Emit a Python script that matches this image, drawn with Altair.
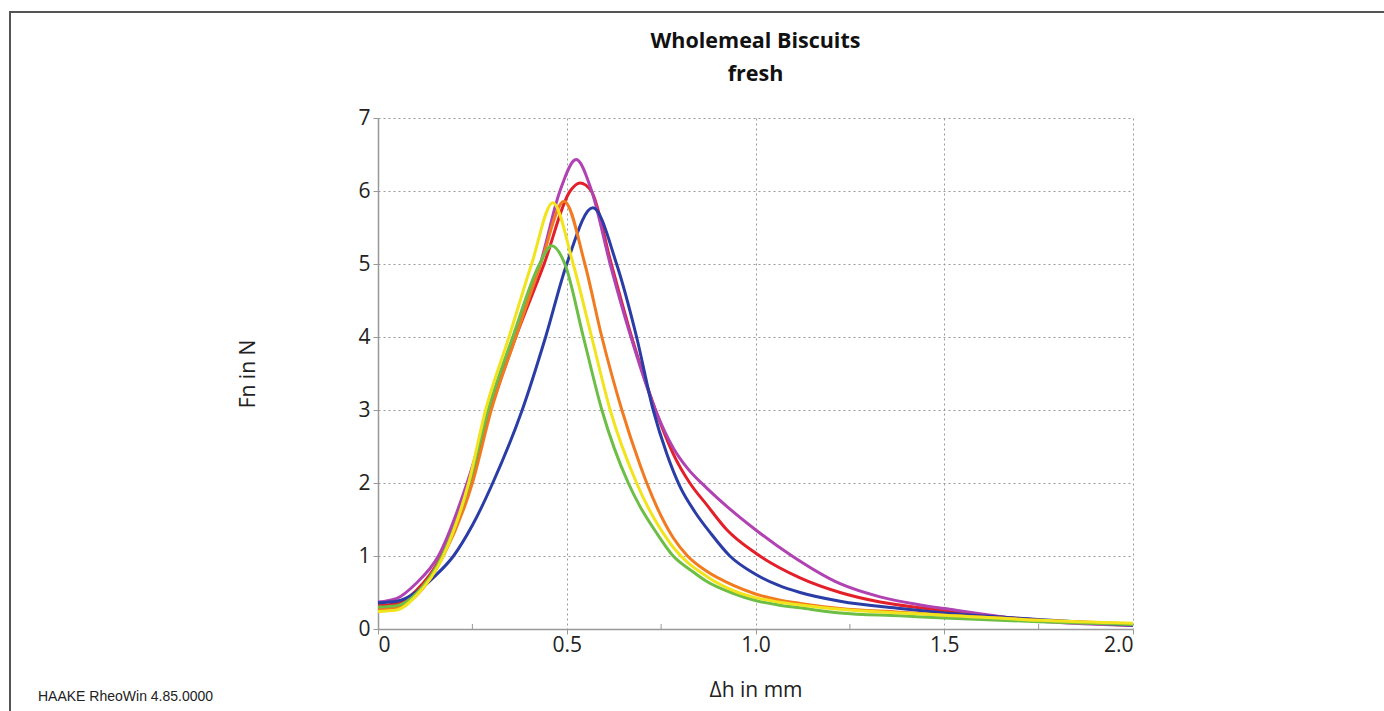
import altair as alt
import pandas as pd

# ---- data (x: Δh in mm, y: Fn in N) ----
names = ["red", "magenta", "blue", "orange", "green", "yellow"]
colors = ["#E3202A", "#B042B2", "#2A3CA6", "#F27A1F", "#6DBE45", "#F2E41C"]

magenta_x = [0, 0.05, 0.1, 0.16, 0.236, 0.295, 0.36, 0.43, 0.482, 0.525, 0.566, 0.615, 0.67, 0.735, 0.782, 0.82, 0.871, 0.924, 1.0, 1.091, 1.224, 1.33, 1.436, 1.5, 1.75, 2.0]
magenta_y = [0.37, 0.42, 0.62, 1.0, 2.0, 3.0, 4.0, 5.0, 6.0, 6.43, 6.0, 5.0, 4.0, 3.0, 2.48, 2.2, 1.93, 1.68, 1.36, 1.02, 0.62, 0.44, 0.33, 0.28, 0.11, 0.05]

red_x = [0, 0.05, 0.1, 0.168, 0.243, 0.298, 0.365, 0.44, 0.509, 0.535, 0.565, 0.618, 0.672, 0.735, 0.782, 0.826, 0.871, 0.924, 1.0, 1.118, 1.224, 1.33, 1.436, 1.5, 1.75, 2.0]
red_y = [0.32, 0.35, 0.52, 1.0, 2.0, 3.0, 4.0, 5.0, 6.0, 6.11, 6.0, 5.0, 4.0, 3.0, 2.4, 2.0, 1.7, 1.36, 1.04, 0.70, 0.50, 0.37, 0.29, 0.25, 0.12, 0.05]

blue_x = [0, 0.05, 0.1, 0.15, 0.2, 0.25, 0.304, 0.382, 0.444, 0.5, 0.569, 0.632, 0.685, 0.729, 0.765, 0.80, 0.84, 0.88, 0.932, 1.0, 1.06, 1.118, 1.224, 1.383, 1.5, 1.75, 2.0]
blue_y = [0.36, 0.38, 0.50, 0.72, 1.0, 1.42, 2.0, 3.0, 4.0, 5.0, 5.77, 5.0, 4.0, 3.0, 2.4, 1.95, 1.6, 1.32, 1.0, 0.75, 0.60, 0.50, 0.38, 0.28, 0.22, 0.13, 0.05]

orange_x = [0, 0.05, 0.1, 0.173, 0.25, 0.30, 0.365, 0.431, 0.493, 0.548, 0.593, 0.646, 0.694, 0.712, 0.782, 0.82, 0.871, 0.94, 1.0, 1.06, 1.118, 1.224, 1.383, 1.5, 1.75, 2.0]
orange_y = [0.27, 0.29, 0.45, 1.0, 2.0, 3.0, 4.0, 5.0, 5.86, 5.0, 4.0, 3.0, 2.25, 2.0, 1.25, 1.0, 0.79, 0.60, 0.48, 0.40, 0.35, 0.28, 0.23, 0.19, 0.12, 0.07]

yellow_x = [0, 0.05, 0.1, 0.173, 0.24, 0.285, 0.347, 0.407, 0.463, 0.517, 0.566, 0.615, 0.685, 0.782, 0.871, 0.94, 1.0, 1.06, 1.118, 1.224, 1.383, 1.5, 1.75, 2.0]
yellow_y = [0.24, 0.26, 0.45, 1.0, 2.0, 3.0, 4.0, 5.0, 5.84, 5.0, 4.0, 3.0, 2.0, 1.12, 0.72, 0.53, 0.43, 0.37, 0.33, 0.27, 0.22, 0.19, 0.12, 0.08]

green_x = [0, 0.05, 0.1, 0.17, 0.242, 0.292, 0.357, 0.428, 0.46, 0.495, 0.544, 0.593, 0.663, 0.694, 0.74, 0.782, 0.83, 0.871, 0.94, 1.0, 1.06, 1.118, 1.224, 1.383, 1.5, 1.75, 2.0]
green_y = [0.30, 0.32, 0.48, 1.0, 2.0, 3.0, 4.0, 5.0, 5.25, 5.0, 4.0, 3.0, 2.0, 1.68, 1.3, 1.0, 0.80, 0.65, 0.49, 0.39, 0.33, 0.29, 0.22, 0.18, 0.15, 0.10, 0.06]

x_ticks = [0, 0.5, 1.0, 1.5, 2.0]
x_minor = [0.25, 0.75, 1.25, 1.75]
y_ticks = [0, 1, 2, 3, 4, 5, 6, 7]

title_lines = ["Wholemeal Biscuits", "fresh"]
x_title = "Δh in mm"
y_title = "Fn in N"
footer = "HAAKE RheoWin 4.85.0000"

series = {
    "red": (red_x, red_y),
    "magenta": (magenta_x, magenta_y),
    "blue": (blue_x, blue_y),
    "orange": (orange_x, orange_y),
    "green": (green_x, green_y),
    "yellow": (yellow_x, yellow_y),
}

W, H = 755, 511
FONT = "Open Sans"

x_scale = alt.Scale(domain=[0, 2], nice=False, zero=False)
y_scale = alt.Scale(domain=[0, 7], nice=False)

x_axis = alt.Axis(
    values=x_ticks,
    labelExpr="datum.value == 0 ? '0' : format(datum.value, '.1f')",
    title=x_title, titleX=W / 2, titleY=61, titleAlign="center", titleBaseline="middle",
    grid=True,
)
y_axis = alt.Axis(
    values=y_ticks, format="d",
    title=y_title, titleAngle=270, titleX=-130, titleY=H / 2,
    titleAlign="center", titleBaseline="middle",
    grid=True,
)

layers = []
for k, name in enumerate(names):
    xs, ys = series[name]
    df = pd.DataFrame({"dh": xs, "fn": ys, "i": list(range(len(xs)))})
    c = alt.Chart(df).mark_line(
        strokeWidth=3, interpolate="monotone", color=colors[k]
    ).encode(
        x=alt.X("dh:Q", scale=x_scale, axis=x_axis),
        y=alt.Y("fn:Q", scale=y_scale, axis=y_axis),
        order="i:Q",
    )
    layers.append(c)

minor = alt.Chart(pd.DataFrame({"t": x_minor})).mark_rule(color="#999", strokeWidth=1).encode(
    x=alt.X("t:Q", scale=x_scale, axis=x_axis),
    y=alt.value(H),
    y2=alt.value(H - 5),
)

one = pd.DataFrame({"a": [0]})
frame_top = alt.Chart(one).mark_rule(color="#555", strokeWidth=2).encode(
    x=alt.value(-368), x2=alt.value(1010), y=alt.value(-106)
)
frame_left = alt.Chart(one).mark_rule(color="#555", strokeWidth=2).encode(
    x=alt.value(-368), y=alt.value(-107), y2=alt.value(600)
)
foot = alt.Chart(pd.DataFrame({"t": [footer]})).mark_text(
    align="left", baseline="middle", font="Liberation Sans", fontSize=14, color="#222",
).encode(text="t:N", x=alt.value(-340), y=alt.value(579))

title_df = pd.DataFrame({"t": title_lines, "k": [0, 1]})
title1 = alt.Chart(title_df.iloc[[0]]).mark_text(
    align="center", baseline="middle", font=FONT, fontSize=21.5, fontWeight="bold", color="#111",
).encode(text="t:N", x=alt.value(W / 2), y=alt.value(-76))
title2 = alt.Chart(title_df.iloc[[1]]).mark_text(
    align="center", baseline="middle", font=FONT, fontSize=21.5, fontWeight="bold", color="#111",
).encode(text="t:N", x=alt.value(W / 2), y=alt.value(-43))

chart = alt.layer(*layers, minor, frame_top, frame_left, foot, title1, title2).properties(
    width=W, height=H,
    autosize=alt.AutoSizeParams(type="none"),
    padding={"left": 378, "top": 118, "right": 251, "bottom": 82},
).configure_view(strokeWidth=0).configure_axis(
    gridDash=[2, 3], gridColor="#9a9a9a", gridWidth=1,
    domainColor="#999", domainWidth=1.5,
    tickColor="#999", tickSize=5,
    labelFont=FONT, labelFontSize=21, labelColor="#222",
    titleFont=FONT, titleFontSize=21, titleFontWeight="normal", titleColor="#222",
).configure_axisX(labelPadding=0).configure_axisY(labelPadding=3)

chart.save("out.html", embed_options={"renderer": "svg", "actions": False})
